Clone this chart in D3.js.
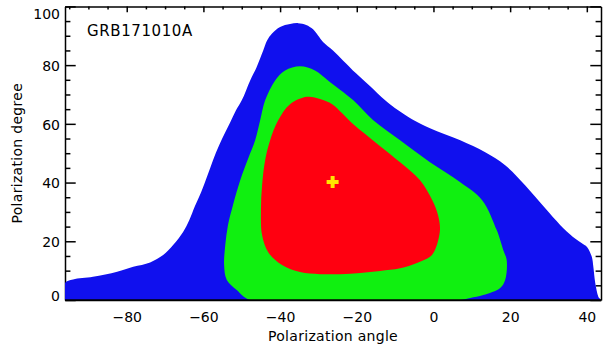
<!DOCTYPE html>
<html>
<head>
<meta charset="utf-8">
<script src="https://cdn.jsdelivr.net/npm/d3@7"></script>
<style>
  body { margin: 0; background: #fff; }
  svg { display: block; font-family: "DejaVu Sans", sans-serif; }
</style>
</head>
<body>
<script>
const title = "GRB171010A"
const xTicks = [-80, -60, -40, -20, 0, 20, 40]
const yTicks = [0, 20, 40, 60, 80, 100]

// contour outlines, [polarization angle, polarization degree]
const blueContour = [
  [-96.1, 0], [-96.1, 5.8], [-94.0, 7.0], [-88.8, 7.9], [-82.5, 9.6], [-78.3, 11.3],
  [-73.9, 12.8], [-70.5, 15.3], [-67.9, 18.7], [-65.3, 23.2], [-63.7, 27.2], [-62.2, 32.0],
  [-60.6, 36.7], [-59.0, 42.2], [-57.5, 47.6], [-55.9, 52.7], [-54.3, 57.1], [-53.0, 60.5],
  [-51.5, 64.6], [-50.0, 68.0], [-47.8, 74.8], [-46.1, 79.4], [-44.4, 85.0], [-43.4, 88.4],
  [-42.1, 90.8], [-40.0, 93.0], [-37.4, 94.0], [-35.3, 94.3], [-33.2, 93.7], [-31.4, 92.2],
  [-30.1, 90.1], [-28.8, 87.9], [-26.2, 85.0], [-23.6, 81.6], [-20.2, 77.2], [-16.5, 72.8],
  [-12.6, 68.0], [-9.2, 64.6], [-5.6, 61.6], [-0.9, 58.5], [7.0, 54.4], [13.5, 50.3],
  [18.7, 45.9], [23.9, 39.1], [29.1, 31.3], [33.1, 25.5], [36.4, 21.5], [39.1, 19.0],
  [40.1, 18.0], [41.3, 14.7], [41.7, 11.3], [42.2, 5.8], [43.0, 1.1], [43.5, 0]
]
const greenContour = [
  [-47.8, 0], [-51.3, 3.4], [-53.9, 6.8], [-54.6, 11.9], [-54.3, 18.7], [-53.6, 25.5],
  [-52.3, 32.3], [-50.4, 40.8], [-48.3, 48.3], [-46.5, 54.4], [-45.2, 61.2], [-43.9, 68.0],
  [-41.3, 74.8], [-38.7, 78.2], [-34.8, 79.6], [-30.9, 78.2], [-27.5, 74.8], [-20.9, 68.0],
  [-15.7, 61.2], [-8.7, 54.4], [-0.9, 46.9], [7.0, 40.1], [12.7, 34.0], [16.5, 23.8],
  [17.4, 20.4], [18.2, 17.0], [19.1, 13.6], [18.7, 6.8], [17.4, 4.1], [13.0, 1.7],
  [9.6, 0.7], [7.0, 0]
]
const redContour = [
  [-33.0, 69.2], [-29.6, 68.5], [-26.4, 66.7], [-23.8, 63.6], [-21.2, 60.2], [-17.8, 56.5],
  [-13.9, 52.4], [-8.7, 46.9], [-3.5, 40.8], [-0.3, 34.0], [1.2, 28.9], [1.7, 23.8],
  [0.4, 17.0], [-0.9, 14.7], [-4.3, 12.6], [-8.7, 10.8], [-13.9, 9.9], [-19.1, 9.2],
  [-24.3, 8.8], [-29.6, 8.8], [-34.8, 9.5], [-39.5, 11.9], [-43.1, 16.3], [-44.7, 22.1],
  [-45.0, 30.6], [-44.7, 39.1], [-43.9, 47.6], [-42.6, 54.4], [-40.5, 61.2], [-37.4, 66.7]
]
const bestFit = [-26.3, 40.2]

const w = 603
const h = 347
const plotLeft = 65
const plotRight = 601
const plotTop = 6.4
const plotBottom = 300

const xScale = d3.scaleLinear().domain([-96.1, 43.7]).range([plotLeft, plotRight])
const yScale = d3.scaleLinear().domain([0, 100]).range([plotBottom, plotTop])

const xMinor = d3.range(-95, 44, 5).filter((v) => !xTicks.includes(v))
const yMinor = d3.range(5, 100, 5).filter((v) => !yTicks.includes(v))

const svg = d3.select("body").append("svg").attr("width", w).attr("height", h)

const styleAxis = (g) => {
  g.attr("font-family", null).attr("font-size", 14)
  g.selectAll("line").attr("stroke", "#000").attr("stroke-width", 1.5)
  g.selectAll(".domain").attr("stroke", "#000").attr("stroke-width", 1.5)
  g.selectAll("text").attr("fill", "#000")
}
const noDomain = (g) => g.select(".domain").remove()

// left axis
svg.append("g").attr("transform", `translate(${plotLeft},0)`)
  .call(d3.axisLeft(yScale).tickValues(yTicks).tickSize(-10.7).tickSizeOuter(0).tickPadding(5))
  .call(styleAxis)
  .call((g) => g.selectAll("text").attr("dy", (d) => d === 100 ? "0.85em" : d === 0 ? "0.05em" : "0.38em"))
svg.append("g").attr("transform", `translate(${plotLeft},0)`)
  .call(d3.axisLeft(yScale).tickValues(yMinor).tickSize(-5.4).tickFormat(""))
  .call(styleAxis).call(noDomain)

// right axis
svg.append("g").attr("transform", `translate(${plotRight},0)`)
  .call(d3.axisRight(yScale).tickValues(yTicks).tickSize(-10.7).tickSizeOuter(0).tickFormat(""))
  .call(styleAxis)
svg.append("g").attr("transform", `translate(${plotRight},0)`)
  .call(d3.axisRight(yScale).tickValues(yMinor).tickSize(-5.4).tickFormat(""))
  .call(styleAxis).call(noDomain)

// top axis
svg.append("g").attr("transform", `translate(0,${plotTop})`)
  .call(d3.axisTop(xScale).tickValues(xTicks).tickSize(-5.9).tickSizeOuter(0).tickFormat(""))
  .call(styleAxis)
svg.append("g").attr("transform", `translate(0,${plotTop})`)
  .call(d3.axisTop(xScale).tickValues(xMinor).tickSize(-3).tickFormat(""))
  .call(styleAxis).call(noDomain)

// bottom axis
svg.append("g").attr("transform", `translate(0,${plotBottom})`)
  .call(d3.axisBottom(xScale).tickValues(xTicks).tickSize(-5.9).tickSizeOuter(0).tickPadding(12))
  .call(styleAxis)
svg.append("g").attr("transform", `translate(0,${plotBottom})`)
  .call(d3.axisBottom(xScale).tickValues(xMinor).tickSize(-3).tickFormat(""))
  .call(styleAxis).call(noDomain)

// contours
svg.append("clipPath").attr("id", "plot-clip")
  .append("rect")
  .attr("x", plotLeft).attr("y", plotTop)
  .attr("width", plotRight - plotLeft).attr("height", plotBottom - plotTop)

const contourLine = d3.line()
  .x((d) => xScale(d[0]))
  .y((d) => yScale(d[1]))
  .curve(d3.curveCatmullRomClosed.alpha(0.5))

const regions = [
  { pts: blueContour, color: "#1010ee" },
  { pts: greenContour, color: "#10f010" },
  { pts: redContour, color: "#ff0010" },
]

svg.append("g").attr("clip-path", "url(#plot-clip)")
  .selectAll("path")
  .data(regions)
  .enter()
  .append("path")
  .attr("d", (d) => contourLine(d.pts))
  .attr("fill", (d) => d.color)

// bottom frame line stays visible below the fill
svg.append("line")
  .attr("x1", plotLeft).attr("x2", plotRight)
  .attr("y1", plotBottom).attr("y2", plotBottom)
  .attr("stroke", "#000").attr("stroke-width", 1.5)

svg.append("path")
  .attr("d", d3.symbol(d3.symbolCross, 80)())
  .attr("transform", `translate(${xScale(bestFit[0])},${yScale(bestFit[1])})`)
  .attr("fill", "#ffe600")

svg.append("text")
  .attr("x", 87).attr("y", 36)
  .attr("font-size", 15)
  .attr("letter-spacing", 0.6)
  .text(title)

svg.append("text")
  .attr("x", (plotLeft + plotRight) / 2).attr("y", 341)
  .attr("text-anchor", "middle")
  .attr("font-size", 14)
  .attr("letter-spacing", 0.3)
  .text("Polarization angle")

svg.append("text")
  .attr("transform", `translate(22,${(plotTop + plotBottom) / 2}) rotate(-90)`)
  .attr("text-anchor", "middle")
  .attr("font-size", 14)
  .attr("letter-spacing", 0.3)
  .text("Polarization degree")
</script>
</body>
</html>
